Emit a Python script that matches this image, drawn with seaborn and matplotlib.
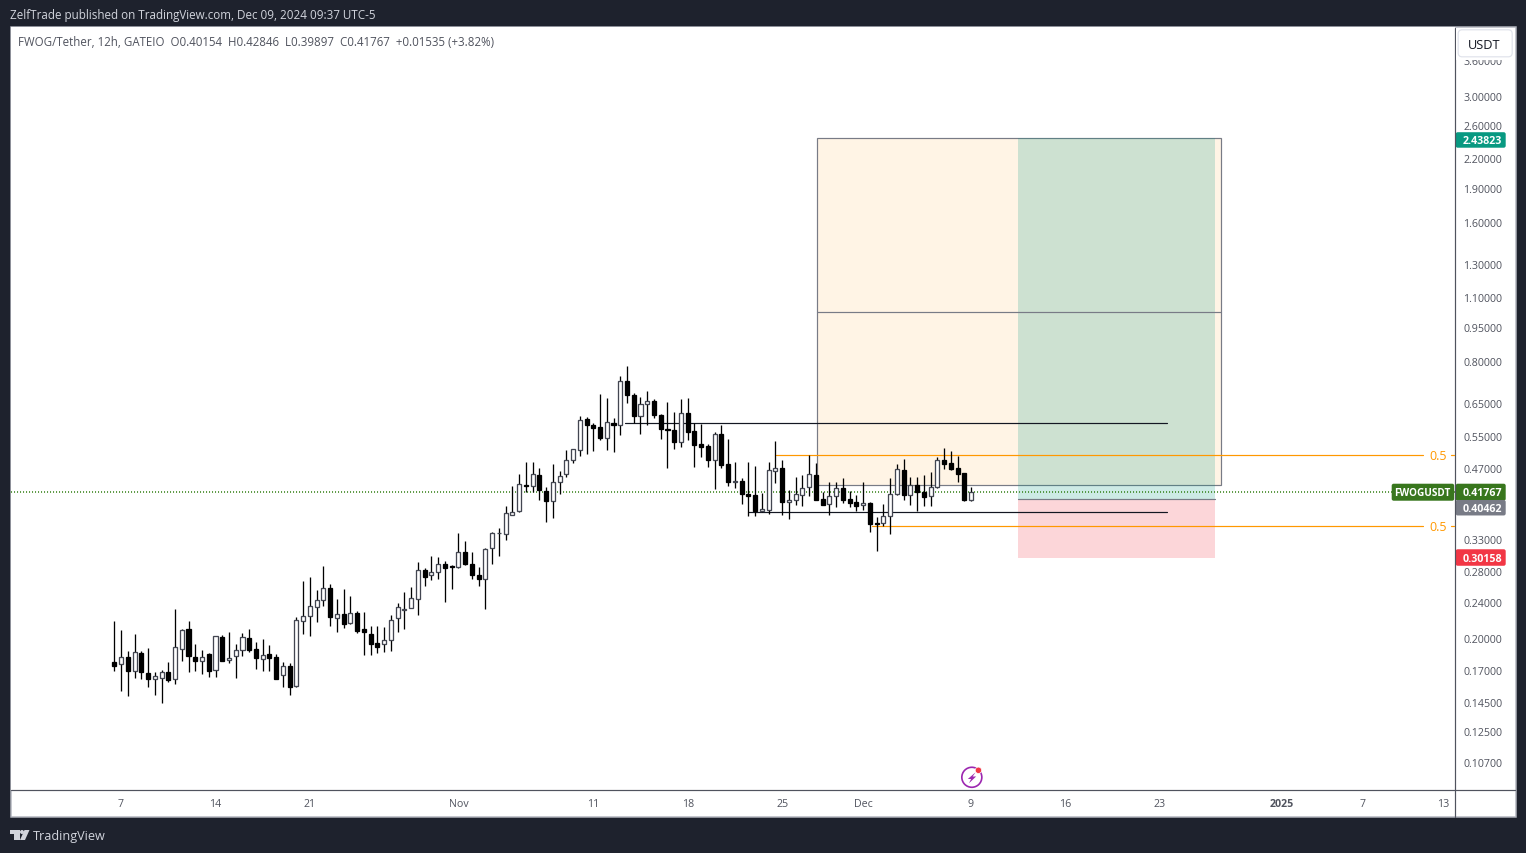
import numpy as np
import pandas as pd
import seaborn as sns
import matplotlib
matplotlib.use("Agg")
import matplotlib.pyplot as plt
from matplotlib.patches import Rectangle, FancyBboxPatch, Circle, Polygon
from matplotlib.ticker import NullLocator, FixedLocator, FixedFormatter

# ---------- data (12h candles, prices in USDT) ----------
opens = [.1792,.1769,.1837,.1716,.1874,.1694,.1649,.1657,.1705,.1644,
         .1909,.2113,.1837,.1804,.1864,.1719,.2030,.1807,.1849,.1899,
         .2020,.1912,.1816,.1864,.1837,.1677,.1754,.1587,.2202,.2251,
         .2354,.2446,.2593,.2235,.2272,.2173,.2288,.2113,.2061,.1970,
         .1957,.1997,.2228,.2327,.2343,.2451,.2833,.2760,.2805,.2920,
         .2892,.2870,.3099,.2920,.2765,.2715,.3162,.3402,.3385,.3733,
         .3796,.4328,.4308,.4561,.4202,.3998,.4392,.4565,.4896,.5157,
         .6021,.5852,.5777,.5476,.5902,.5842,.7279,.6782,.6117,.6491,
         .6587,.6143,.5737,.5708,.5368,.6202,.5655,.5300,.5248,.4896,
         .5587,.4809,.4402,.4417,.4146,.4119,.3803,.3815,.4635,.4713,
         .3970,.4010,.4111,.4280,.4553,.4036,.3934,.4090,.4267,.4036,
         .3978,.3912,.3957,.3581,.3581,.3701,.4140,.4667,.4111,.4328,
         .4181,.4090,.4280,.4906,.4842,.4722,.4602,.40154]
highs = [.2199,.2102,.1890,.2061,.1890,.1921,.1705,.1722,.1792,.2335,
         .2113,.2199,.1961,.1902,.1870,.2037,.2051,.2081,.1961,.2068,
         .2113,.1980,.2010,.1951,.1864,.1792,.1781,.2240,.2685,.2739,
         .2567,.2893,.2645,.2454,.2580,.2490,.2311,.2300,.2145,.2145,
         .2134,.2266,.2406,.2542,.2597,.2953,.2866,.3045,.3028,.2967,
         .2909,.3413,.3279,.3104,.2880,.3167,.3430,.3495,.3900,.4299,
         .4584,.4866,.4866,.4722,.4292,.4817,.4651,.5165,.5191,.6121,
         .6091,.5912,.6800,.6698,.6060,.7440,.7820,.6834,.6731,.6936,
         .6663,.6183,.6564,.6244,.6663,.6698,.5912,.5882,.5325,.5652,
         .5852,.5457,.4866,.4484,.4866,.4770,.4167,.4866,.5404,.4913,
         .4230,.4515,.4561,.5038,.4842,.4181,.4402,.4402,.4492,.4210,
         .4126,.4402,.3985,.3695,.3946,.4492,.4817,.4938,.4515,.4515,
         .4561,.4628,.4988,.5217,.5139,.5012,.4602,.42846]
lows = [.1716,.1553,.1515,.1657,.1649,.1584,.1522,.1462,.1624,.1608,
        .1804,.1705,.1716,.1683,.1665,.1665,.1804,.1786,.1657,.1849,
        .1878,.1733,.1716,.1716,.1649,.1584,.1522,.1584,.2061,.2043,
        .2181,.2373,.2147,.2084,.2125,.2170,.2073,.1857,.1857,.1874,
        .1883,.1893,.2084,.2116,.2339,.2269,.2618,.2698,.2711,.2418,
        .2580,.2866,.2909,.2715,.2618,.2335,.2924,.3045,.3295,.3722,
        .3777,.4189,.4189,.4024,.3593,.3677,.4132,.4515,.4842,.5012,
        .5063,.5139,.5430,.5165,.5113,.5569,.6533,.5912,.5597,.5852,
        .6060,.5457,.4722,.5191,.5243,.5430,.4745,.4988,.4745,.4251,
        .4722,.4316,.4273,.3946,.3711,.3711,.3790,.3752,.4380,.3733,
        .3659,.3927,.3907,.4105,.4024,.3927,.3733,.3888,.3965,.3888,
        .3810,.3828,.3430,.3120,.3534,.3397,.4126,.4024,.3927,.3810,
        .3907,.3907,.4273,.4697,.4674,.4402,.4004,.39897]
closes = [.1757,.1834,.1716,.1881,.1705,.1649,.1668,.1703,.1640,.1928,
          .2099,.1849,.1804,.1834,.1716,.2037,.1804,.1825,.1899,.2027,
          .1905,.1830,.1855,.1830,.1649,.1754,.1584,.2207,.2251,.2366,
          .2438,.2589,.2247,.2272,.2166,.2285,.2095,.2084,.1963,.1933,
          .1997,.2207,.2354,.2335,.2463,.2833,.2743,.2805,.2920,.2856,
          .2879,.3099,.2913,.2760,.2715,.3146,.3408,.3413,.3764,.3780,
          .4351,.4315,.4578,.4215,.3990,.4392,.4527,.4906,.5183,.5991,
          .5831,.5746,.5465,.5932,.5831,.7279,.6770,.6104,.6491,.6587,
          .6124,.5717,.5688,.5359,.6202,.5631,.5290,.5238,.4896,.5587,
          .4794,.4387,.4424,.4132,.4105,.3803,.3841,.4667,.4713,.3970,
          .4018,.4140,.4267,.4578,.4024,.3927,.4098,.4267,.4024,.3965,
          .3907,.3951,.3570,.3570,.3708,.4140,.4690,.4111,.4328,.4189,
          .4086,.4289,.4906,.4817,.4697,.4584,.4024,.41767]

x_tick_bars = [1, 15, 29, 51, 71, 85, 99, 111, 127, 141, 155, 173, 185, 197]
x_tick_labels = ["7", "14", "21", "Nov", "11", "18", "25", "Dec", "9", "16", "23", "2025", "7", "13"]
y_tick_prices = [3.6, 3.0, 2.6, 2.2, 1.9, 1.6, 1.3, 1.1, .95, .8, .65, .55, .47, .33,
                 .2815, .2412, .2010, .1712, .1460, .1265, .1082]
y_tick_labels = ["3.60000", "3.00000", "2.60000", "2.20000", "1.90000", "1.60000", "1.30000",
                 "1.10000", "0.95000", "0.80000", "0.65000", "0.55000", "0.47000", "0.33000",
                 "0.28000", "0.24000", "0.20000", "0.17000", "0.14500", "0.12500", "0.10700"]

last_price = 0.41767
entry_price = 0.40462
target_price = 2.43823
stop_price = 0.30158
box_top = 2.43823
box_mid = 1.024
box_low = 0.4326
level_high = 0.5896
level_low = 0.3789
fib_high = 0.5025
fib_low = 0.3528

# ---------- style ----------
W, H = 1526, 853
BG = "#1e222d"
sns.set_theme(style="white", rc={"figure.dpi": 100, "savefig.dpi": 100})
plt.rcParams["font.family"] = ["Open Sans", "DejaVu Sans"]
PX = 0.72
AXC = "#50535e"
TXT = "#50535e"

fig = plt.figure(figsize=((W + 0.2) / 100, (H + 0.2) / 100), facecolor=BG)

# page furniture lives on a pixel-coordinate layer
back = fig.add_axes([0, 0, 1, 1], zorder=0)
back.set_xlim(0, W); back.set_ylim(H, 0); back.axis("off")
back.add_patch(Rectangle((10.5, 27.5), 1505, 790, fc="white", ec="#b2b5be", lw=PX * 1.5))

ax = fig.add_axes([11 / W, (H - 790.2) / H, 1443.5 / W, 763 / H], zorder=1, facecolor="white")
front = fig.add_axes([0, 0, 1, 1], zorder=2)
front.set_xlim(0, W); front.set_ylim(H, 0); front.axis("off"); front.patch.set_alpha(0)

bars = np.arange(len(opens))
o, h, l, c = map(np.array, (opens, highs, lows, closes))

# ---------- long position / rectangle drawings ----------
ax.set_yscale("log")
BX0, BX1, GX0, GX1 = 104.12, 164.12, 133.98, 163.2
ax.add_patch(Rectangle((BX0, box_low), BX1 - BX0, box_top - box_low, fc=(1, .596, 0, .1),
                       ec="#787b86", lw=PX * 1.2, zorder=1))
ax.add_patch(Rectangle((GX0, entry_price), GX1 - GX0, target_price - entry_price, fc=(8/255, 153/255, 129/255, .2),
                       ec="none", zorder=1.1))
ax.add_patch(Rectangle((GX0, stop_price), GX1 - GX0, entry_price - stop_price, fc=(242/255, 54/255, 69/255, .2),
                       ec="none", zorder=1.1))

levels = pd.DataFrame({
    "x": [BX0, BX1, GX0, GX1, 75.7, 156.0, 93.95, 156.0, 98.1, 194.0, 112.3, 194.0],
    "price": [box_mid, box_mid, entry_price, entry_price, level_high, level_high,
              level_low, level_low, fib_high, fib_high, fib_low, fib_low],
    "line": np.repeat(["mid", "entry", "hi", "lo", "f1", "f2"], 2),
})
palette = {"mid": "#787b86", "entry": "#787b86", "hi": "#131722", "lo": "#131722", "f1": "#ff9800", "f2": "#ff9800"}
sns.lineplot(data=levels, x="x", y="price", hue="line", palette=palette, estimator=None,
             sort=False, lw=PX * 1.2, legend=False, ax=ax, zorder=1.5)

ax.axhline(last_price, color="#2e7d10", lw=PX * 1.5, ls=(0, (0.7, 1.3)), zorder=1.6)

# ---------- candles ----------
wicks = pd.DataFrame({"bar": np.repeat(bars, 2), "price": np.column_stack([l, h]).ravel()})
sns.lineplot(data=wicks, x="bar", y="price", units="bar", estimator=None, color="black",
             lw=PX * 1.3, legend=False, ax=ax, zorder=2, solid_capstyle="butt")
up = c >= o
bw = 0.6
ax.bar(bars[up], (c - o)[up], bottom=o[up], width=bw, color="white", edgecolor="#434651", lw=PX * 1.3, zorder=3)
ax.bar(bars[~up], (o - c)[~up], bottom=c[~up], width=bw, color="black", edgecolor="black", lw=PX * 1.3, zorder=3)

# ---------- axes ----------
ax.set_xlim((11 - 114.3) / 6.745, (1454.5 - 114.3) / 6.745)
ax.set_ylim(0.0945, 4.251)
ax.set_xlabel(""); ax.set_ylabel("")
ax.xaxis.set_major_locator(FixedLocator(x_tick_bars))
ax.xaxis.set_major_formatter(FixedFormatter(x_tick_labels))
ax.yaxis.tick_right()
ax.yaxis.set_major_locator(FixedLocator(y_tick_prices))
ax.yaxis.set_major_formatter(FixedFormatter(y_tick_labels))
ax.yaxis.set_minor_locator(NullLocator())
ax.tick_params(axis="x", length=0, pad=6, labelsize=7.7, labelcolor=TXT)
ax.tick_params(axis="y", length=0, pad=6.0, labelsize=7.7, labelcolor=TXT)
for t in ax.get_xticklabels():
    if t.get_text() == "2025":
        t.set_fontweight("bold")
for s in ax.spines.values():
    s.set_visible(False)

# frame lines
front.plot([1454.5, 1454.5], [28, 817], color=AXC, lw=PX * 1.2)
front.plot([11, 1515], [790.5, 790.5], color=AXC, lw=PX * 1.2)

# ---------- right-hand tags ----------
fig.canvas.draw()
def ypx(price):
    return H - ax.transData.transform((0, price))[1] * H / fig.bbox.height

def tag(cy, text, color, x0=1455.5, x1=1505.5, h_=15.5, tx=1482.5, size=7.7):
    front.add_patch(FancyBboxPatch((x0 + 1.5, cy - h_ / 2 + 1.5), x1 - x0 - 3, h_ - 3,
                                   boxstyle="round,pad=1.5,rounding_size=2", fc=color, ec="none"))
    front.text(tx, cy, text, color="white", fontsize=size, fontweight="bold",
               ha="center", va="center_baseline")

tag(ypx(target_price) + 1.5, "2.43823", "#089981")
tag(ypx(last_price), "FWOGUSDT", "#38761d", 1391.5, 1454, 17, tx=1422.5, size=7.2)
tag(ypx(last_price), "0.41767", "#38761d", 1455.5, 1505.5, 17)
tag(ypx(last_price) + 15.5, "0.40462", "#787b86")
tag(ypx(stop_price), "0.30158", "#f23645", h_=16.5)

for lev in (fib_high, fib_low):
    y = ypx(lev)
    front.text(1437.5, y, "0.5", color="#ff9800", fontsize=9, ha="center", va="center_baseline")
    front.plot([1450.5, 1454], [y, y], color="#ff9800", lw=PX * 1.2)

# currency button with the mask that clips the top tick label
front.add_patch(Rectangle((1455.5, 28.5), 59, 31.5, fc="white", ec="none", zorder=4))
front.add_patch(FancyBboxPatch((1459.5, 31.5), 51, 24, boxstyle="round,pad=1.5,rounding_size=4",
                               fc="white", ec="#e0e3eb", lw=PX * 1.2, zorder=5))
front.text(1484, 44, "USDT", color="#131722", fontsize=9.2, ha="center", va="center_baseline", zorder=6)

# header and legend text
front.text(10, 14, "ZelfTrade published on TradingView.com, Dec 09, 2024 09:37 UTC-5",
           color="#d1d4dc", fontsize=8.35, ha="left", va="center_baseline")
front.text(18, 40.7, "FWOG/Tether, 12h, GATEIO  O0.40154  H0.42846  L0.39897  C0.41767  +0.01535 (+3.82%)",
           color=TXT, fontsize=8.32, ha="left", va="center_baseline")

# lightning icon
front.add_patch(Circle((971.7, 777.3), 10, fc="white", ec="#9c27b0", lw=1.2))
front.add_patch(Polygon([(975.5, 772.3), (967.7, 779), (971, 779), (968.8, 783.3), (976, 776.5), (972.5, 776.5)],
                        fc="#9c27b0", ec="none"))
front.add_patch(Circle((978.3, 770.3), 3.2, fc="#f23645", ec="white", lw=0.5))

# footer logo
front.add_patch(Polygon([(10, 830), (19.5, 830), (19.5, 840), (14, 840), (14, 834), (10, 834)], fc="#d1d4dc", ec="none"))
front.add_patch(Circle((22, 832), 2, fc="#d1d4dc", ec="none"))
front.add_patch(Polygon([(24.5, 830), (29.5, 830), (25, 840), (20, 840)], fc="#d1d4dc", ec="none"))
front.text(33, 834.7, "TradingView", color="#d1d4dc", fontsize=9.1, ha="left", va="center_baseline")

fig.savefig("out.png", dpi=100, facecolor=BG)
